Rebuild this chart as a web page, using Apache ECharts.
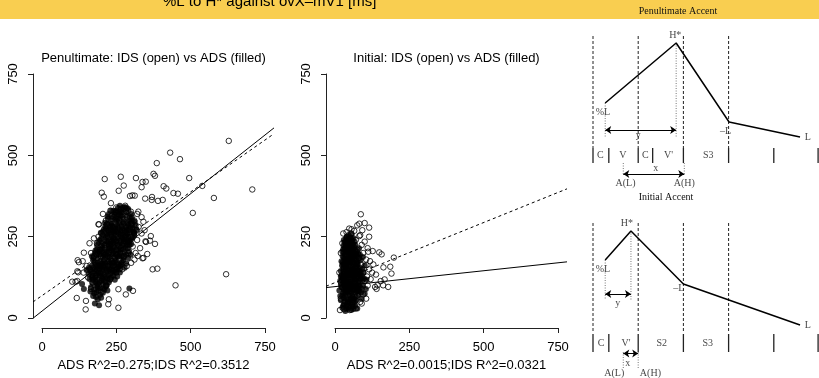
<!DOCTYPE html>
<html>
<head>
<meta charset="utf-8">
<script src="https://cdn.jsdelivr.net/npm/echarts@6/dist/echarts.min.js"></script>
<style>
html, body { margin: 0; padding: 0; background: #fff; }
#chart { width: 819px; height: 378px; }
</style>
</head>
<body>
<div id="chart"></div>
<script>
// ---- scatter data (ms) ----
const axisTicks = [0, 250, 500, 750];

// Penultimate accent: IDS (open) and ADS (filled)
const penIDS = [
  [628,544],[431,508],[464,488],[386,476],[495,430],[375,443],[380,437],[316,430],[265,434],[211,427],
  [349,419],[338,418],[275,407],[258,391],[335,402],[409,405],[418,398],[539,406],[707,395],[201,385],
  [208,373],[296,375],[304,377],[312,376],[442,384],[457,382],[347,367],[370,372],[369,363],[390,360],
  [406,363],[578,369],[232,353],[507,323],[619,135],[449,101],[388,152],[372,150],[380,228],[366,252],
  [354,197],[338,184],[311,180],[348,236],[306,84],[282,73],[257,32],[225,58],[223,43],[148,53],
  [147,27],[117,62],[102,112],[119,114],[120,178],[124,172],[137,175],[141,201],[119,144],[218,288],
  [257,89],[363,238],[350,234],[341,185],[322,191],[113,112],[122,141],[192,288],[266,334],[277,337],
  [324,327],[299,327],[262,317],[235,314],[190,288],[335,310],[341,296],
  [160,150],[175,190],[185,230],[200,260],[215,300],[230,330],[245,280],[260,300],[270,270],[285,310],
  [300,290],[310,260],[320,240],[305,220],[290,200],[275,230],[255,250],[240,220],[225,200],[210,180],
  [195,160],[180,130],[170,110],[165,90],[190,100],[205,140],[220,160],[235,175],[250,195],[265,215],
  [280,250],[295,275],[310,300],[325,280],[335,260],[345,270],[330,215],[315,200],[300,170],[285,160],
  [270,150],[250,140],[230,120],[215,100],[200,80],[240,310],[225,270],[210,240],[195,210],[180,170],
  [165,200],[150,160],[155,125],[140,140],[265,325],[280,345],[250,340],[290,330],[320,320],[205,320],
  [190,250],[175,245],[160,230],[260,180],[275,190],[290,235],[300,250],[318,270],[240,160],[225,235],
  [212,215],[198,190],[185,150]
];
const penADS = [
  [178,45],[188,58],[172,68],[196,72],[183,80],[205,78],[192,40],
  [165,95],[175,88],[185,100],[195,92],[205,105],[215,98],[170,108],[190,84],[135,105],[141,90],[294,91],
  [225,110],[180,112],[200,115],[206,91],[218,101],
  [160,120],[170,130],[180,125],[190,140],[200,128],[210,135],[220,122],[230,138],[240,130],[250,142],
  [165,142],[185,118],[205,145],[225,145],[195,132],[215,128],[158,135],[245,118],[262,140],
  [158,155],[168,162],[178,150],[188,170],[198,158],[208,175],[218,152],[228,168],[238,160],[248,178],
  [258,165],[268,172],[278,155],[172,178],[192,152],[212,162],[232,178],[252,152],[222,160],[242,170],
  [262,150],[182,165],[202,168],[150,148],
  [168,190],[178,200],[188,185],[198,210],[208,195],[218,205],[228,188],[238,212],[248,198],[258,208],
  [268,192],[278,202],[288,215],[298,195],[185,212],[205,188],[225,214],[245,185],[265,210],[215,198],
  [235,195],[255,188],[275,186],[195,196],
  [185,225],[195,240],[205,230],[215,248],[225,222],[235,238],[245,228],[255,245],[265,232],[275,242],
  [285,225],[295,238],[305,248],[200,222],[220,235],[240,246],[260,220],[280,235],[300,228],[250,236],
  [230,228],[270,248],[290,250],
  [198,262],[208,272],[218,258],[228,280],[238,265],[248,275],[258,260],[268,282],[278,268],[288,258],
  [298,278],[308,265],[318,272],[213,282],[233,256],[253,285],[273,256],[293,270],[243,262],[263,270],
  [283,280],[303,285],[223,268],
  [212,293],[222,305],[232,290],[242,312],[252,298],[262,308],[272,295],[282,315],[292,300],[302,310],
  [312,296],[236,283],[268,324],[221,312],[247,302],[287,292],[258,318],[300,320],
  [240,330],[255,338],[270,332],[279,341],[290,335],[248,325],[262,345],
  [182,65],[176,77],[199,63],[210,88],[187,95],[163,82],[220,85],
  [172,118],[182,132],[193,110],[203,122],[213,112],[223,132],[233,125],[243,140],[253,128],[168,125],
  [178,138],[208,118],[228,118],[238,145],[198,138],[188,105],
  [163,148],[173,155],[183,145],[193,162],[203,150],[213,170],[223,175],[233,152],[243,162],[253,170],
  [263,160],[273,178],[283,168],[177,172],[197,175],[217,145],[237,170],[257,158],[187,158],[207,158],
  [227,150],[247,148],[267,165],
  [173,185],[183,195],[193,205],[203,215],[213,188],[223,198],[233,208],[243,218],[253,195],[263,200],
  [273,212],[283,195],[293,205],[180,208],[200,200],[220,190],[240,202],[260,190],[280,218],[210,212],
  [230,215],[250,210],[290,185],
  [190,232],[200,245],[210,225],[220,252],[230,240],[240,232],[250,255],[260,238],[270,225],[280,252],
  [290,232],[300,242],[310,255],[205,255],[225,228],[245,242],[265,252],[285,240],[235,250],[255,225],
  [275,235],[295,225],[215,238],
  [205,265],[215,275],[225,262],[235,290],[245,270],[255,280],[265,265],[275,290],[285,272],[295,262],
  [305,275],[315,285],[220,290],[240,278],[260,292],[280,262],[300,295],[230,272],[250,265],[270,275],
  [290,285],[310,262],
  [225,320],[235,305],[245,318],[255,305],[265,315],[275,305],[285,325],[295,310],[305,300],[250,330],
  [272,340],[285,338],[232,330],[260,326]
];
// regression lines, end points at the plot edges [x, y]
const penFitADS = [[-30, 0], [780, 584]];
const penFitIDS = [[-30, 50], [780, 566]];

// Initial accent: IDS (open) and ADS (filled)
const iniIDS = [
  [87,319],[82,290],[100,292],[115,278],[56,273],[39,264],[115,250],[82,252],[127,206],[112,204],
  [149,202],[157,196],[198,186],[186,158],[163,156],[190,137],[167,119],[154,114],[179,96],[162,101],
  [143,101],[135,96],[138,134],[108,128],[118,175],[129,165],[106,163],[95,73],[90,45],[50,25],
  [17,25],[140,90],
  [20,60],[35,80],[50,95],[65,110],[80,125],[95,140],[30,150],[45,170],[60,190],[75,210],
  [90,225],[25,230],[40,250],[55,260],[70,240],[85,255],[100,235],[110,215],[95,200],[80,185],
  [65,165],[50,145],[35,130],[20,110],[105,180],[115,150],[100,115],[90,90],[75,70],[60,50],
  [45,35],[30,28],[70,30],[85,50],[105,60],[120,120],[125,140],[110,100],[20,200],[28,260],
  [48,275],[65,268],[92,270],[75,285],[40,190],[55,120],[72,155],[88,165],[15,140],[25,95]
];
const iniADS = [
  [35,22],[45,28],[55,25],[60,35],[40,38],[50,45],[30,42],[65,48],[75,30],[25,32],
  [20,55],[30,62],[40,58],[50,70],[60,55],[70,65],[80,72],[35,75],[45,52],[55,78],[65,60],[25,70],[90,60],[100,75],
  [15,85],[22,95],[30,88],[38,102],[46,90],[54,105],[62,85],[70,98],[78,108],[86,92],[94,100],[28,108],
  [42,82],[58,95],[74,82],[104,90],[34,95],[50,100],[66,108],[82,100],
  [18,115],[26,125],[34,118],[42,135],[50,112],[58,128],[66,120],[74,138],[82,115],[90,130],[98,122],
  [30,138],[46,125],[62,135],[78,128],[38,112],[54,140],[70,115],[22,132],[86,140],[106,118],
  [20,145],[28,155],[36,148],[44,165],[52,150],[60,160],[68,145],[76,168],[84,155],[92,150],[32,168],
  [48,158],[64,170],[40,142],[56,145],[72,155],[24,162],[80,145],[100,162],
  [22,175],[30,185],[38,178],[46,195],[54,172],[62,188],[70,180],[78,198],[86,178],[34,195],[50,185],
  [66,195],[42,172],[58,200],[26,190],[74,172],[94,188],
  [25,205],[33,215],[41,208],[49,225],[57,210],[65,218],[73,205],[37,228],[53,218],[45,202],[61,228],
  [29,222],[81,215],
  [35,235],[45,242],[55,232],[40,248],[50,238],[62,245],[30,240],
  [28,38],[38,30],[48,36],[58,42],[68,38],[42,48],[32,52],[52,58],[62,28],[72,55],
  [18,68],[28,78],[38,68],[48,82],[58,68],[68,78],[78,88],[88,80],[32,100],[42,92],[52,88],[62,100],
  [72,92],[82,85],[20,102],[56,62],[46,106],[36,85],[66,88],[76,100],
  [24,118],[32,128],[40,122],[48,138],[56,118],[64,128],[72,122],[80,135],[88,122],[28,145],[36,158],
  [44,150],[52,135],[60,150],[68,158],[76,148],[84,130],[96,140],[40,130],[58,112],[92,115],[20,128],
  [30,112],[64,142],
  [26,172],[34,182],[42,185],[50,175],[58,180],[66,182],[74,190],[82,185],[30,200],[38,205],[46,210],
  [54,195],[62,205],[70,198],[28,165],[44,180],[60,168],[76,165],[36,165],[52,202],[68,210],[84,195],
  [28,212],[36,222],[44,218],[52,230],[60,215],[68,225],[32,232],[48,232],[58,240],[42,238],[38,245],
  [52,248],[66,235],[46,255],[56,258]
];
const iniFitADS = [[-30, 94], [780, 173]];
const iniFitIDS = [[-30, 98], [780, 397]];

// ---- schematic diagrams (x in syllable units, y in pitch units) ----
const penBounds = [0, 1, 2, 3];
const penTicks = [0, 0.35, 1, 1.32, 2, 3, 4, 4.98];
const penContour = [[0.27, 8.7], [1.84, 14.7], [3.01, 6.8], [4.58, 5.3]];
const penTones = [['H*', 1.82, 15.5], ['%L', 0.22, 7.8], ['\u2013L', 2.93, 5.9], ['L', 4.75, 5.3]];
const penSegs = [['C', 0.16], ['V', 0.66], ['C', 1.16], ["V'", 1.67], ['S3', 2.55]];
const penDotted = [[0.27, 8.7, 5.3], [1.84, 14.7, 5.3], [0.67, 2.7, 1.5], [2.02, 2.7, 1.5]];
const penArrows = [[0.27, 1.84, 6.0, 'y', 1.0, 5.5], [0.67, 2.02, 1.6, 'x', 1.39, 2.2]];
const penAnchors = [['A(L)', 0.72, 0.7], ['A(H)', 2.02, 0.7]];

const iniBounds = [0, 1, 2, 3];
const iniTicks = [0, 0.35, 1, 2, 3, 4, 4.98];
const iniContour = [[0.27, 11.8], [0.84, 14.7], [2.0, 9.4], [4.58, 5.3]];
const iniTones = [['H*', 0.75, 15.5], ['%L', 0.22, 10.9], ['\u2013L', 1.9, 9.0], ['L', 4.75, 5.3]];
const iniSegs = [['C', 0.18], ["V'", 0.73], ['S2', 1.52], ['S3', 2.54]];
const iniDotted = [[0.27, 11.8, 7.8], [0.84, 14.7, 7.8], [0.67, 2.6, 0.9], [1.0, 2.6, 0.9]];
const iniArrows = [[0.67, 1.0, 2.45, 'x', 0.77, 1.5], [0.27, 0.84, 8.4, 'y', 0.55, 7.5]];
const iniAnchors = [['A(L)', 0.47, 0.5], ['A(H)', 1.27, 0.5]];

const SANS = 'Liberation Sans, Arial, sans-serif';
const SERIF = 'Liberation Serif, Times New Roman, serif';

let chart = echarts.init(document.getElementById('chart'), null, { renderer: 'canvas' });

function hidden(gi, min, max) {
  return { gridIndex: gi, type: 'value', min: min, max: max, show: false };
}

function scatter(gi, data, filled) {
  return {
    type: 'scatter', xAxisIndex: gi, yAxisIndex: gi, data: data, silent: true,
    symbol: 'circle', symbolSize: filled ? 6 : 5.5,
    itemStyle: filled ? { color: '#000' } : { color: 'rgba(0,0,0,0)', borderColor: '#000', borderWidth: 1 }
  };
}

function fitLine(gi, data, dashed) {
  return {
    type: 'line', xAxisIndex: gi, yAxisIndex: gi, data: data, showSymbol: false, silent: true,
    lineStyle: { color: '#000', width: 1, type: dashed ? [3, 3] : 'solid' }
  };
}

function seg(gi, pts, style) {
  return {
    type: 'line', xAxisIndex: gi, yAxisIndex: gi, data: pts, showSymbol: false, silent: true,
    clip: false, lineStyle: style
  };
}

function texts(gi, items, size) {
  return {
    type: 'scatter', xAxisIndex: gi, yAxisIndex: gi, silent: true, symbolSize: 1,
    itemStyle: { color: 'rgba(0,0,0,0)' },
    data: items.map(t => ({ name: t[0], value: [t[1], t[2]] })),
    label: { show: true, position: 'inside', formatter: '{b}', fontFamily: SERIF, fontSize: size || 10, color: '#111' }
  };
}

function diagram(gi, bounds, ticks, contour, tones, segs, dotted, arrows, anchors, top, bottom, tickTop, tickBot) {
  let s = [];
  bounds.forEach(x => s.push(seg(gi, [[x, top], [x, bottom]], { color: '#222', width: 1, type: [3, 2] })));
  ticks.forEach(x => s.push(seg(gi, [[x, tickTop], [x, tickBot]], { color: '#222', width: 1.3 })));
  dotted.forEach(d => s.push(seg(gi, [[d[0], d[1]], [d[0], d[2]]], { color: '#555', width: 0.8, type: [1, 1.5] })));
  s.push(seg(gi, contour, { color: '#000', width: 1.5 }));
  s.push({
    type: 'line', xAxisIndex: gi, yAxisIndex: gi, data: [], silent: true,
    markLine: {
      silent: true, symbol: ['arrow', 'arrow'], symbolSize: 6, label: { show: false },
      lineStyle: { color: '#000', width: 1, type: 'solid' },
      data: arrows.map(a => [{ coord: [a[0], a[2]] }, { coord: [a[1], a[2]] }])
    }
  });
  s.push(texts(gi, tones.concat(arrows.map(a => [a[3], a[4], a[5]])).concat(anchors)));
  s.push(texts(gi, segs.map(t => [t[0], t[1], (tickTop + tickBot) / 2])));
  return s;
}

function tickAxis(gi, pos, rot) {
  return {
    gridIndex: gi, type: 'value', min: 0, max: 750, interval: 250, position: pos,
    axisLine: { show: true, lineStyle: { color: '#222', width: 1 } },
    axisTick: { show: true, inside: false, length: 5, lineStyle: { color: '#222' } },
    splitLine: { show: false },
    axisLabel: { margin: 13, rotate: rot, color: '#000', fontFamily: SANS, fontSize: 13, showMinLabel: true, showMaxLabel: true },
    data: axisTicks
  };
}

let option = {
  animation: false,
  backgroundColor: '#fff',
  graphic: [
    { type: 'rect', shape: { x: 0, y: 0, width: 819, height: 19 }, style: { fill: '#f9ce50' }, z: -1 },
    { type: 'text', x: 163, y: 9, style: { text: '%L to H* against ovX\u2013mV1 [ms]', font: '15px ' + SANS, fill: '#000', verticalAlign: 'bottom' } },
    { type: 'text', x: 678, y: 11, style: { text: 'Penultimate Accent', font: '10px ' + SERIF, fill: '#111', align: 'center', verticalAlign: 'middle' } },
    { type: 'text', x: 666, y: 197, style: { text: 'Initial Accent', font: '10px ' + SERIF, fill: '#111', align: 'center', verticalAlign: 'middle' } },
    { type: 'text', x: 153.5, y: 58, style: { text: 'Penultimate: IDS (open) vs ADS (filled)', font: '13px ' + SANS, fill: '#000', align: 'center', verticalAlign: 'middle' } },
    { type: 'text', x: 446.5, y: 58, style: { text: 'Initial: IDS (open) vs ADS (filled)', font: '13px ' + SANS, fill: '#000', align: 'center', verticalAlign: 'middle' } }
  ],
  grid: [
    { left: 33, top: 64, width: 241, height: 264 },   // 0 penultimate plot
    { left: 326, top: 64, width: 241, height: 264 },  // 1 initial plot
    { left: 33, top: 74, width: 241, height: 244 },   // 2 y axis left
    { left: 326, top: 74, width: 241, height: 244 },  // 3 y axis right
    { left: 42, top: 64, width: 223, height: 264 },   // 4 x axis left
    { left: 335, top: 64, width: 223, height: 264 },  // 5 x axis right
    { left: 593, top: 20, width: 226, height: 170 },  // 6 penultimate diagram
    { left: 593, top: 208, width: 226, height: 170 }  // 7 initial diagram
  ],
  xAxis: [
    hidden(0, -30, 780), hidden(1, -30, 780),
    hidden(2, 0, 1), hidden(3, 0, 1),
    Object.assign(tickAxis(4, 'bottom', 0), {
      name: 'ADS R^2=0.275;IDS R^2=0.3512', nameLocation: 'middle', nameGap: 26,
      nameTextStyle: { fontFamily: SANS, fontSize: 13, color: '#000' }
    }),
    Object.assign(tickAxis(5, 'bottom', 0), {
      name: 'ADS R^2=0.0015;IDS R^2=0.0321', nameLocation: 'middle', nameGap: 26,
      nameTextStyle: { fontFamily: SANS, fontSize: 13, color: '#000' }
    }),
    hidden(6, 0, 5), hidden(7, 0, 5)
  ],
  yAxis: [
    hidden(0, -30, 780), hidden(1, -30, 780),
    tickAxis(2, 'left', 90), tickAxis(3, 'left', 90),
    hidden(4, 0, 1), hidden(5, 0, 1),
    hidden(6, 0, 17), hidden(7, 0, 17)
  ],
  series: [
    scatter(0, penIDS, false), scatter(0, penADS, true),
    fitLine(0, penFitADS, false), fitLine(0, penFitIDS, true),
    scatter(1, iniIDS, false), scatter(1, iniADS, true),
    fitLine(1, iniFitADS, false), fitLine(1, iniFitIDS, true)
  ].concat(
    diagram(6, penBounds, penTicks, penContour, penTones, penSegs, penDotted, penArrows, penAnchors, 15.4, 4.2, 4.2, 2.7),
    diagram(7, iniBounds, iniTicks, iniContour, iniTones, iniSegs, iniDotted, iniArrows, iniAnchors, 15.5, 4.5, 4.4, 2.6)
  )
};

chart.setOption(option);
window.addEventListener('resize', chart.resize);
</script>
</body>
</html>
